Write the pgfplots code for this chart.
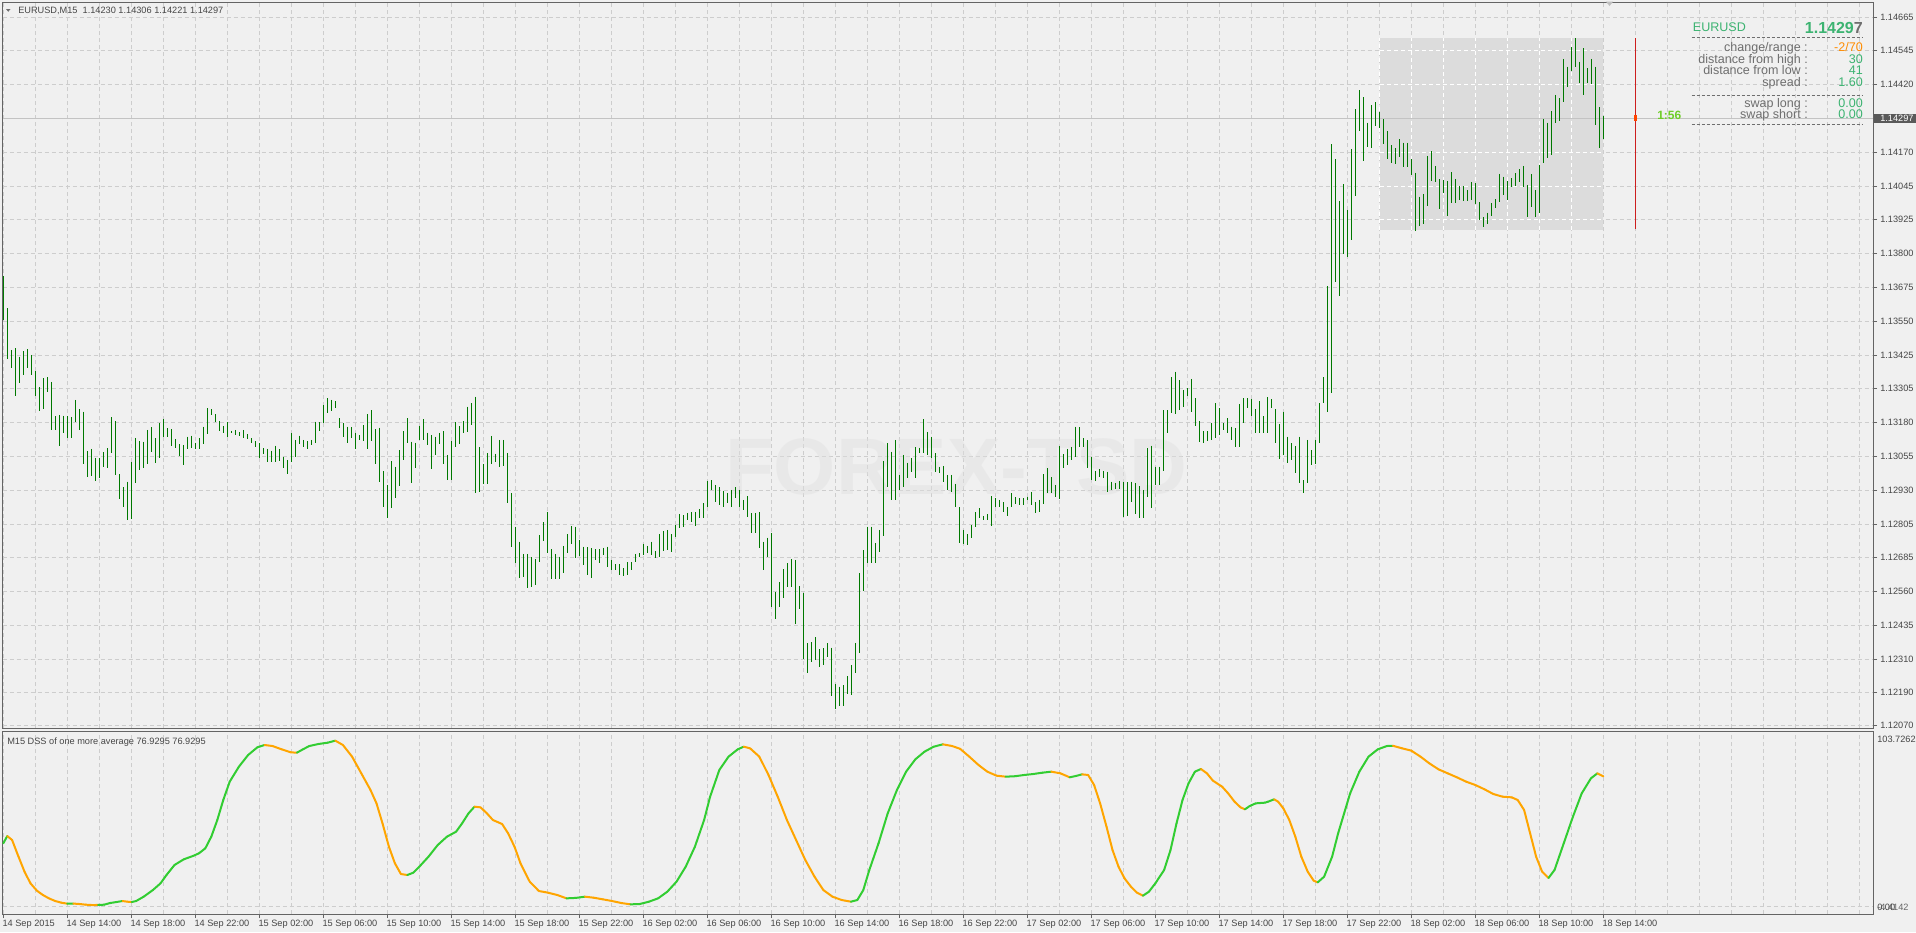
\documentclass[border=0pt]{standalone}
\usepackage{pgfplots}
\usepackage{pgfplotstable}
\pgfplotsset{compat=1.18}
\usepackage{fontspec}
\setmainfont{Liberation Sans}

\definecolor{bg}{RGB}{240,240,240}
\definecolor{frame}{RGB}{100,100,100}
\definecolor{gridc}{RGB}{205,205,205}
\definecolor{bargreen}{RGB}{0,120,0}
\definecolor{lbl}{RGB}{70,70,70}
\definecolor{infogray}{RGB}{110,110,110}
\definecolor{infogreen}{RGB}{60,179,113}
\definecolor{infoorange}{RGB}{255,140,0}
\definecolor{timegreen}{RGB}{110,205,40}
\definecolor{redline}{RGB}{205,30,30}
\definecolor{curmark}{RGB}{255,69,0}
\definecolor{pricebox}{RGB}{90,90,90}
\definecolor{cpline}{RGB}{195,195,195}
\definecolor{dssgreen}{RGB}{50,205,50}
\definecolor{dssorange}{RGB}{255,165,0}
\definecolor{rectc}{RGB}{220,220,220}

\newcommand{\sm}{\fontsize{6.9}{8}\selectfont}
\newcommand{\info}{\fontsize{9.4}{11}\selectfont}

% EURUSD M15 bars: high, low (one row per bar, 14 Sep 10:00 onwards)
\pgfplotstableread{
H L
1.13718 1.13556
1.13599 1.13412
1.13446 1.13379
1.13452 1.13279
1.13422 1.13326
1.13442 1.13354
1.13449 1.13381
1.13428 1.13353
1.13369 1.13279
1.13309 1.13223
1.13342 1.13229
1.13347 1.13293
1.13329 1.13153
1.13204 1.13153
1.13208 1.13095
1.13205 1.13141
1.13204 1.13124
1.13201 1.13125
1.13263 1.13181
1.13230 1.13153
1.13220 1.13028
1.13076 1.12981
1.13083 1.12984
1.13051 1.12967
1.13050 1.12975
1.13072 1.13016
1.13085 1.13014
1.13200 1.13069
1.13186 1.12988
1.12990 1.12898
1.12942 1.12871
1.12963 1.12821
1.13036 1.12825
1.13124 1.12959
1.13112 1.13006
1.13110 1.13012
1.13153 1.13028
1.13163 1.13073
1.13122 1.13030
1.13177 1.13051
1.13192 1.13128
1.13159 1.13128
1.13155 1.13094
1.13120 1.13085
1.13100 1.13058
1.13098 1.13026
1.13128 1.13082
1.13132 1.13088
1.13106 1.13082
1.13124 1.13083
1.13165 1.13101
1.13233 1.13139
1.13229 1.13207
1.13211 1.13182
1.13186 1.13150
1.13168 1.13141
1.13181 1.13128
1.13150 1.13141
1.13153 1.13134
1.13145 1.13131
1.13153 1.13124
1.13138 1.13118
1.13122 1.13106
1.13112 1.13090
1.13104 1.13051
1.13085 1.13064
1.13083 1.13036
1.13077 1.13036
1.13095 1.13036
1.13082 1.13039
1.13055 1.13012
1.13043 1.12993
1.13141 1.13036
1.13116 1.13055
1.13132 1.13100
1.13116 1.13090
1.13113 1.13084
1.13116 1.13098
1.13183 1.13105
1.13181 1.13150
1.13244 1.13177
1.13270 1.13214
1.13263 1.13223
1.13259 1.13232
1.13195 1.13161
1.13179 1.13128
1.13165 1.13106
1.13163 1.13122
1.13143 1.13082
1.13134 1.13116
1.13171 1.13112
1.13211 1.13082
1.13226 1.13113
1.13156 1.13028
1.13161 1.12963
1.13002 1.12871
1.12951 1.12829
1.13038 1.12868
1.13018 1.12904
1.13079 1.12948
1.13149 1.13043
1.13196 1.13106
1.13110 1.12959
1.13106 1.13013
1.13168 1.13116
1.13193 1.13116
1.13143 1.13098
1.13134 1.13010
1.13128 1.13061
1.13142 1.13101
1.13149 1.13028
1.13061 1.12969
1.13113 1.12969
1.13181 1.13091
1.13167 1.13101
1.13185 1.13143
1.13238 1.13146
1.13250 1.13171
1.13275 1.12923
1.13089 1.12926
1.13028 1.12955
1.13067 1.12955
1.13131 1.13028
1.13066 1.13034
1.13116 1.13018
1.13116 1.13021
1.13069 1.12884
1.12921 1.12725
1.12798 1.12664
1.12743 1.12609
1.12698 1.12614
1.12698 1.12572
1.12685 1.12578
1.12678 1.12584
1.12767 1.12670
1.12814 1.12747
1.12852 1.12700
1.12715 1.12605
1.12698 1.12605
1.12688 1.12605
1.12728 1.12627
1.12770 1.12700
1.12800 1.12734
1.12798 1.12682
1.12749 1.12691
1.12725 1.12658
1.12722 1.12621
1.12719 1.12609
1.12715 1.12676
1.12715 1.12664
1.12721 1.12694
1.12725 1.12649
1.12676 1.12639
1.12661 1.12639
1.12661 1.12621
1.12645 1.12617
1.12667 1.12621
1.12669 1.12639
1.12698 1.12669
1.12700 1.12688
1.12734 1.12694
1.12728 1.12700
1.12743 1.12694
1.12709 1.12682
1.12771 1.12688
1.12783 1.12709
1.12786 1.12712
1.12771 1.12706
1.12804 1.12761
1.12844 1.12792
1.12840 1.12798
1.12849 1.12822
1.12850 1.12816
1.12852 1.12802
1.12862 1.12829
1.12884 1.12829
1.12966 1.12871
1.12969 1.12933
1.12951 1.12890
1.12942 1.12877
1.12930 1.12871
1.12922 1.12886
1.12933 1.12869
1.12942 1.12902
1.12933 1.12869
1.12896 1.12859
1.12910 1.12835
1.12847 1.12776
1.12849 1.12776
1.12850 1.12719
1.12743 1.12639
1.12758 1.12688
1.12774 1.12505
1.12559 1.12458
1.12594 1.12502
1.12642 1.12535
1.12663 1.12578
1.12679 1.12578
1.12676 1.12440
1.12581 1.12496
1.12556 1.12311
1.12370 1.12260
1.12374 1.12300
1.12392 1.12309
1.12348 1.12284
1.12352 1.12290
1.12370 1.12321
1.12354 1.12176
1.12221 1.12128
1.12211 1.12140
1.12217 1.12140
1.12250 1.12184
1.12289 1.12180
1.12372 1.12260
1.12627 1.12334
1.12712 1.12562
1.12798 1.12666
1.12798 1.12664
1.12739 1.12666
1.12786 1.12706
1.13039 1.12765
1.13104 1.12945
1.13073 1.12896
1.13116 1.12896
1.12988 1.12933
1.13061 1.12945
1.13033 1.12975
1.13049 1.13000
1.13089 1.12975
1.13088 1.13067
1.13193 1.13067
1.13146 1.13061
1.13128 1.13049
1.13067 1.13000
1.13018 1.12994
1.13021 1.12963
1.12988 1.12933
1.12988 1.12926
1.12955 1.12871
1.12869 1.12737
1.12786 1.12733
1.12771 1.12731
1.12804 1.12755
1.12850 1.12798
1.12865 1.12829
1.12838 1.12822
1.12844 1.12822
1.12910 1.12800
1.12902 1.12871
1.12896 1.12871
1.12888 1.12850
1.12871 1.12838
1.12921 1.12871
1.12906 1.12881
1.12902 1.12877
1.12902 1.12877
1.12908 1.12896
1.12924 1.12877
1.12887 1.12847
1.12896 1.12852
1.12990 1.12881
1.13012 1.12923
1.12979 1.12921
1.12951 1.12908
1.13094 1.12900
1.13064 1.13012
1.13083 1.13024
1.13091 1.13043
1.13165 1.13055
1.13163 1.13091
1.13122 1.13091
1.13116 1.13012
1.13055 1.12969
1.13003 1.12967
1.13008 1.12981
1.13003 1.12975
1.13000 1.12926
1.12963 1.12933
1.12959 1.12935
1.12966 1.12935
1.12963 1.12835
1.12961 1.12837
1.12963 1.12890
1.12959 1.12843
1.12947 1.12829
1.12933 1.12829
1.13085 1.12906
1.13095 1.12865
1.13018 1.12951
1.13018 1.12951
1.13226 1.13003
1.13226 1.13141
1.13346 1.13214
1.13367 1.13211
1.13336 1.13226
1.13299 1.13236
1.13306 1.13277
1.13340 1.13220
1.13269 1.13167
1.13186 1.13110
1.13149 1.13104
1.13149 1.13113
1.13179 1.13116
1.13251 1.13124
1.13232 1.13134
1.13177 1.13153
1.13195 1.13141
1.13165 1.13116
1.13159 1.13091
1.13248 1.13091
1.13269 1.13179
1.13269 1.13232
1.13265 1.13204
1.13229 1.13141
1.13259 1.13141
1.13204 1.13141
1.13273 1.13143
1.13265 1.13232
1.13229 1.13104
1.13175 1.13045
1.13220 1.13061
1.13128 1.13030
1.13104 1.13043
1.13094 1.12996
1.13128 1.12959
1.12969 1.12923
1.13116 1.12957
1.13079 1.13024
1.13116 1.13028
1.13251 1.13104
1.13346 1.13251
1.13681 1.13220
1.14202 1.13290
1.14147 1.13697
1.13993 1.13645
1.14055 1.13798
1.13960 1.13789
1.14184 1.13850
1.14329 1.14012
1.14400 1.14251
1.14373 1.14141
1.14280 1.14190
1.14345 1.14188
1.14356 1.14269
1.14319 1.14262
1.14293 1.14201
1.14250 1.14148
1.14198 1.14133
1.14186 1.14129
1.14220 1.14153
1.14207 1.14119
1.14207 1.14119
1.14146 1.14088
1.14097 1.13884
1.14009 1.13902
1.14019 1.13908
1.14158 1.13976
1.14176 1.14067
1.14122 1.14064
1.14072 1.13963
1.14070 1.14021
1.14067 1.13938
1.14098 1.13987
1.14074 1.13984
1.14049 1.13997
1.14048 1.13993
1.14033 1.13993
1.14061 1.13997
1.14058 1.13981
1.13988 1.13923
1.13935 1.13899
1.13950 1.13907
1.13984 1.13938
1.14000 1.13966
1.14092 1.13990
1.14082 1.14015
1.14066 1.13997
1.14076 1.14045
1.14095 1.14048
1.14110 1.14064
1.14122 1.14045
1.14052 1.13935
1.14092 1.13972
1.14033 1.13935
1.14125 1.13948
1.14294 1.14131
1.14280 1.14150
1.14324 1.14162
1.14382 1.14278
1.14370 1.14286
1.14514 1.14355
1.14486 1.14412
1.14557 1.14471
1.14590 1.14486
1.14504 1.14425
1.14553 1.14382
1.14480 1.14425
1.14514 1.14422
1.14486 1.14272
1.14337 1.14188
1.14306 1.14221
}\bars

% DSS of one more average: bar position, value, rising(1)/falling(0)
\pgfplotstableread{
x v c
0 37.34 1
1.0 41.68 0
2.2 39.31 0
3.8 29.47 0
5.3 20.60 0
6.8 13.70 0
8.4 9.37 0
9.9 6.81 0
11.4 4.84 0
13.0 3.26 0
14.5 2.28 0
16.0 1.69 1
17.5 1.75 0
19.1 1.49 0
20.6 1.10 0
22.1 0.90 0
23.7 0.92 1
25.2 1.10 1
26.7 2.08 1
28.3 2.67 1
29.8 3.26 0
31.0 2.87 0
32.1 2.67 1
33.2 3.26 1
35.1 5.82 1
37.4 9.76 1
39.3 13.70 1
40.8 18.63 1
42.8 24.54 1
45.1 27.89 1
47.4 29.86 1
48.9 31.43 1
50.5 34.39 1
52.0 41.28 1
53.5 51.13 1
55.0 63.01 1
56.6 73.79 1
58.9 82.65 1
61.2 89.54 1
63.5 94.08 1
65.3 95.46 0
67.3 94.86 0
69.6 92.89 0
71.9 91.12 0
73.4 90.92 1
74.9 92.89 1
76.5 94.86 1
78.8 96.05 1
81.1 96.83 1
83.0 98.02 0
84.9 95.46 0
87.2 88.56 0
89.5 78.71 0
91.8 68.86 0
93.3 60.98 0
94.8 49.16 0
96.4 35.37 0
97.9 25.53 0
99.4 19.22 0
101.0 18.63 1
102.5 20.01 1
104.0 23.55 1
106.3 29.47 1
108.6 36.35 1
110.9 41.28 1
113.2 44.24 1
114.7 49.16 1
116.3 55.07 1
117.8 59.01 0
119.3 58.62 0
120.9 55.07 0
122.4 51.13 0
124.7 48.77 0
126.2 43.25 0
127.8 35.37 0
129.3 25.53 0
131.6 14.69 0
133.9 9.17 0
136.2 8.19 0
138.5 6.81 0
140.8 4.84 1
143.1 5.10 1
145.4 5.82 0
147.6 5.23 0
149.9 4.25 0
152.2 3.26 0
154.5 2.08 0
156.8 1.30 1
159.1 1.50 1
161.4 2.87 1
163.7 4.84 1
166.0 8.78 1
168.3 14.69 1
170.6 23.55 1
172.9 35.37 1
175.2 51.13 1
176.7 64.92 1
179.0 80.68 1
181.3 88.56 1
183.6 92.89 1
185.1 94.47 0
186.7 93.49 0
189.0 88.56 0
191.3 77.73 0
193.6 64.92 0
195.9 51.13 0
198.2 39.31 0
200.5 27.49 0
202.8 17.64 0
205.0 9.76 0
207.3 5.82 0
209.6 3.85 0
211.9 2.87 1
213.5 3.85 1
215.0 9.76 1
216.5 21.59 1
218.8 37.34 1
221.1 55.07 1
223.4 68.86 1
225.7 79.70 1
228.0 86.99 1
230.3 91.52 1
232.6 94.47 1
234.9 95.85 0
237.2 94.86 0
239.2 93.20 0
241.5 88.56 0
243.8 83.64 0
246.0 79.70 0
248.3 77.33 0
250.6 76.74 1
252.9 77.00 1
255.2 77.73 1
257.5 78.32 1
259.8 79.11 1
262.0 79.70 0
264.3 78.71 0
266.6 76.35 1
268.1 77.14 1
269.7 78.12 0
271.2 77.73 0
272.7 71.82 0
274.2 60.98 0
275.8 47.19 0
277.3 33.40 0
278.8 23.55 0
280.3 16.66 0
281.9 11.73 0
283.4 8.19 0
284.9 6.42 1
286.4 8.78 1
288.0 13.70 1
290.2 21.59 1
291.8 33.40 1
293.3 49.16 1
294.8 62.95 1
296.3 72.80 1
297.9 79.70 1
299.4 81.27 0
300.9 78.71 0
302.4 74.38 0
304.7 70.83 0
306.2 66.89 0
307.8 61.97 0
309.3 58.62 0
310.4 57.44 1
311.6 59.41 1
313.1 60.98 1
315.4 61.38 1
316.2 61.97 1
317.7 63.35 0
318.7 61.97 0
320.0 58.03 0
321.5 51.13 0
323.0 41.28 0
324.5 29.47 0
326.1 20.60 0
327.6 15.28 0
328.6 14.30 1
330.2 17.64 1
332.2 29.47 1
333.7 43.25 1
335.2 55.07 1
336.7 66.89 1
339.0 79.70 1
341.3 88.56 1
343.6 92.89 1
345.9 94.86 1
347.4 95.00 0
349.7 93.49 0
352.0 92.11 0
354.3 88.56 0
356.5 84.62 0
358.8 81.07 0
361.1 78.71 0
363.4 76.35 0
365.7 73.79 0
368.0 71.82 0
370.3 69.26 0
372.5 66.50 0
374.8 64.92 0
377.1 64.53 0
378.6 62.95 0
380.2 57.04 0
381.7 43.25 0
383.2 29.47 0
384.7 20.60 0
386.3 16.86 1
387.8 21.59 1
390.1 37.34 1
392.4 53.10 1
394.6 66.89 1
396.9 75.76 1
398.5 78.71 0
400.0 76.93 0
}\dss

\pgfplotsset{
  mtgrid/.style={draw=gridc, line width=0.75pt, dash pattern=on 3pt off 2.25pt},
}

\begin{document}
\begin{tikzpicture}
\useasboundingbox (0,0) rectangle (1437pt,-699pt);
\fill[bg] (0,0) rectangle (1437pt,-699pt);

% price panel
\begin{axis}[
  at={(1.875pt,-1.5pt)}, anchor=north west,
  scale only axis, width=1402.875pt, height=544.5pt,
  xmin=-0.2, xmax=467.425, ymin=1.120593, ymax=1.147230,
  axis line style={draw=frame, line width=0.75pt},
  tick align=outside, major tick length=3pt,
  xtick={0,8,...,464}, xticklabels={}, xtick style={draw=none},
  ytick={1.12070,1.12190,1.12310,1.12435,1.12560,1.12685,1.12805,1.12930,1.13055,1.13180,1.13305,1.13425,1.13550,1.13675,1.13800,1.13925,1.14045,1.14170,1.14295,1.14420,1.14545,1.14665},
  yticklabels={1.12070,1.12190,1.12310,1.12435,1.12560,1.12685,1.12805,1.12930,1.13055,1.13180,1.13305,1.13425,1.13550,1.13675,1.13800,1.13925,1.14045,1.14170,,1.14420,1.14545,1.14665},
  ytick pos=right, yticklabel pos=right,
  ytick style={draw=frame, line width=0.75pt},
  xmajorgrids, ymajorgrids, major grid style={mtgrid},
  tick label style={font=\sm, text=lbl},
  yticklabel style={anchor=west, inner sep=0pt, xshift=2.25pt},
  scaled ticks=false,
]
\addplot[fill=rectc, draw=none] coordinates {(344.2,1.13886) (400,1.13886) (400,1.14591) (344.2,1.14591)} -- cycle;
\addplot[white, line width=0.75pt, dash pattern=on 3pt off 2.25pt, unbounded coords=jump] coordinates {
  (344,1.13886) (344,1.14591) (344,nan)
  (352,1.13886) (352,1.14591) (352,nan)
  (360,1.13886) (360,1.14591) (360,nan)
  (368,1.13886) (368,1.14591) (368,nan)
  (376,1.13886) (376,1.14591) (376,nan)
  (384,1.13886) (384,1.14591) (384,nan)
  (392,1.13886) (392,1.14591) (392,nan)
  (344.2,1.13925) (400,1.13925) (400,nan)
  (344.2,1.14045) (400,1.14045) (400,nan)
  (344.2,1.14170) (400,1.14170) (400,nan)
  (344.2,1.14420) (400,1.14420) (400,nan)
  (344.2,1.14545) (400,1.14545)
};
\node[text=black!12, opacity=0.45, font=\fontsize{60}{60}\selectfont\bfseries] at (axis cs:238.2,1.13017) {FOREX-TSD};
\addplot[cpline, line width=0.75pt] coordinates {(-0.2,1.14297) (467.425,1.14297)};
\addplot[draw=none, no marks,
  error bars/.cd, y dir=minus, y explicit, error mark=none,
  error bar style={draw=bargreen, line width=0.85pt}]
  table[x expr=\coordindex, y=H, y error minus expr=\thisrow{H}-\thisrow{L}] {\bars};
\addplot[redline, line width=0.75pt] coordinates {(408,1.14590) (408,1.13890)};
\addplot[curmark, line width=2.25pt] coordinates {(408,1.14307) (408,1.14287)};
\end{axis}

% indicator panel
\begin{axis}[
  at={(1.875pt,-548.25pt)}, anchor=north west,
  scale only axis, width=1402.875pt, height=137.25pt,
  xmin=-0.2, xmax=467.425, ymin=-4.4142, ymax=103.7262,
  axis line style={draw=frame, line width=0.75pt},
  tick align=outside, major tick length=3pt, minor tick length=0pt,
  xtick={0,16,...,400},
  xticklabels={14 Sep 2015,14 Sep 14:00,14 Sep 18:00,14 Sep 22:00,15 Sep 02:00,15 Sep 06:00,15 Sep 10:00,15 Sep 14:00,15 Sep 18:00,15 Sep 22:00,16 Sep 02:00,16 Sep 06:00,16 Sep 10:00,16 Sep 14:00,16 Sep 18:00,16 Sep 22:00,17 Sep 02:00,17 Sep 06:00,17 Sep 10:00,17 Sep 14:00,17 Sep 18:00,17 Sep 22:00,18 Sep 02:00,18 Sep 06:00,18 Sep 10:00,18 Sep 14:00},
  minor xtick={8,24,40,56,72,88,104,120,136,152,168,184,200,216,232,248,264,280,296,312,328,344,360,376,392,408,416,424,432,440,448,456,464},
  xtick pos=left, xtick style={draw=frame, line width=0.75pt},
  ytick=\empty,
  xmajorgrids, xminorgrids, major grid style={mtgrid}, minor grid style={mtgrid},
  tick label style={font=\sm, text=lbl},
  xticklabel style={anchor=north west, inner sep=0pt, xshift=-0.75pt, yshift=-1pt},
]
\addplot[mtgrid] coordinates {(-0.2,0) (467.425,0)};
\addplot[mesh, shader=flat corner, point meta=explicit, point meta min=0, point meta max=1,
  colormap={dss}{color(0cm)=(dssorange); color(1cm)=(dssgreen)},
  line width=1.5pt, line join=round, line cap=round]
  table[x=x, y=v, meta=c] {\dss};
\end{axis}

\begin{scope}[x=0.75pt, y=-0.75pt]
% window captions
\fill[infogray] (6,9) -- (10.5,9) -- (8.25,11.8) -- cycle;
\node[anchor=base west, inner sep=0pt, font=\sm, text=lbl] at (18,13) {EURUSD,M15\ \ 1.14230 1.14306 1.14221 1.14297};
\node[anchor=base west, inner sep=0pt, font=\sm, text=lbl] at (7,744) {M15 DSS of one more average 76.9295 76.9295};
\fill[black!25] (1606,1.7) -- (1613,1.7) -- (1609.5,6) -- cycle;
% indicator scale (MT4 prints the two lower values on top of each other)
\node[anchor=base west, inner sep=0pt, font=\sm, text=lbl] at (1877,742.5) {103.7262};
\node[anchor=base west, inner sep=0pt, font=\sm, text=lbl] at (1877,910) {0.00};
\node[anchor=base west, inner sep=0pt, font=\sm, text=lbl, opacity=0.8] at (1877,910) {-4.4142};
% current price box
\fill[pricebox] (1874,113.8) rectangle (1916,122.8);
\node[anchor=base west, inner sep=0pt, font=\sm, text=white] at (1880,121.5) {1.14297};
% time to bar close
\node[anchor=base west, inner sep=0pt, font=\fontsize{9}{11}\selectfont\bfseries, text=timegreen] at (1657,119) {1:56};
% info panel
\node[anchor=base west, inner sep=0pt, font=\info, text=infogreen] at (1692.7,31.7) {EURUSD};
\node[anchor=base east, inner sep=0pt, font=\fontsize{12}{14}\selectfont\bfseries] at (1863,33.3) {\textcolor{infogreen}{1.1429}\textcolor{infogray}{7}};
\draw[infogray, line width=0.75pt, dash pattern=on 2.25pt off 1.5pt] (1691.7,37.3) -- (1863.3,37.3);
\draw[infogray, line width=0.75pt, dash pattern=on 2.25pt off 1.5pt] (1691.7,95.7) -- (1863.3,95.7);
\draw[infogray, line width=0.75pt, dash pattern=on 2.25pt off 1.5pt] (1691.7,124) -- (1863.3,124);
\node[anchor=base east, inner sep=0pt, font=\info, text=infogray] at (1808,51) {change/range :};
\node[anchor=base east, inner sep=0pt, font=\info, text=infogray] at (1808,63) {distance from high :};
\node[anchor=base east, inner sep=0pt, font=\info, text=infogray] at (1808,74.7) {distance from low :};
\node[anchor=base east, inner sep=0pt, font=\info, text=infogray] at (1808,86) {spread :};
\node[anchor=base east, inner sep=0pt, font=\info, text=infogray] at (1808,107) {swap long :};
\node[anchor=base east, inner sep=0pt, font=\info, text=infogray] at (1808,118.7) {swap short :};
\node[anchor=base east, inner sep=0pt, font=\info, text=infoorange] at (1863,51) {-2/70};
\node[anchor=base east, inner sep=0pt, font=\info, text=infogreen] at (1863,63) {30};
\node[anchor=base east, inner sep=0pt, font=\info, text=infogreen] at (1863,74.7) {41};
\node[anchor=base east, inner sep=0pt, font=\info, text=infogreen] at (1863,86) {1.60};
\node[anchor=base east, inner sep=0pt, font=\info, text=infogreen] at (1863,107) {0.00};
\node[anchor=base east, inner sep=0pt, font=\info, text=infogreen] at (1863,118.7) {0.00};
\end{scope}
\end{tikzpicture}
\end{document}
